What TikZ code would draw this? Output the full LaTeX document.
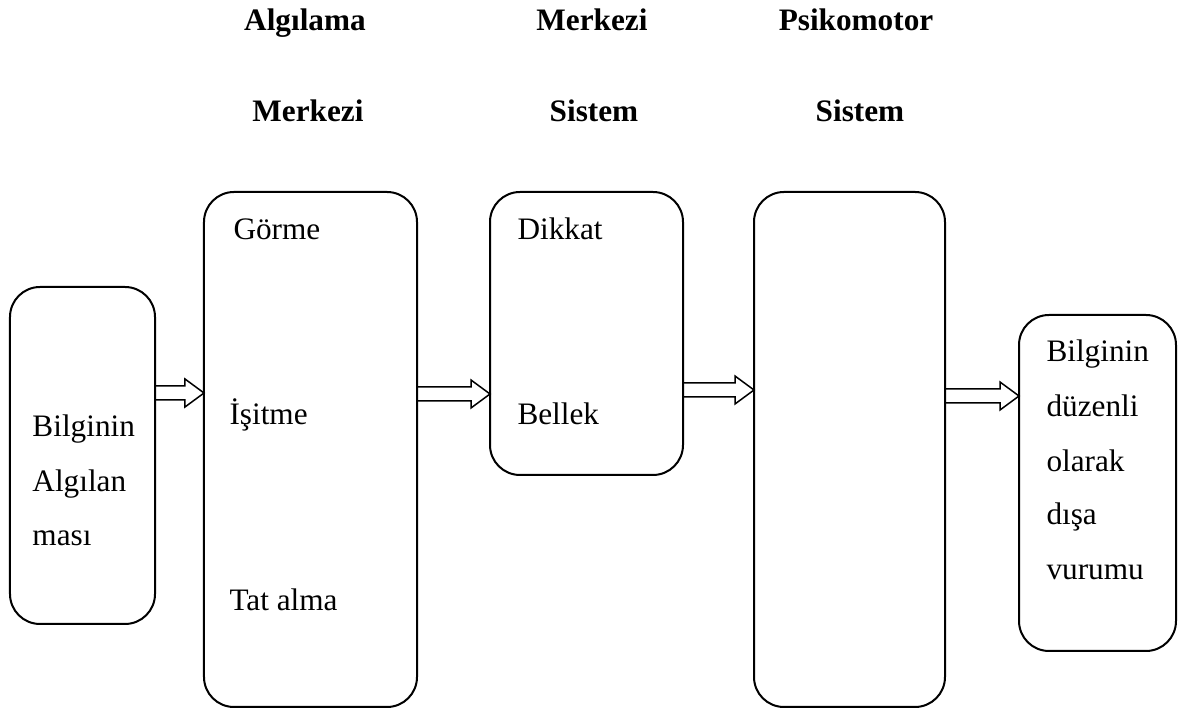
\documentclass[tikz,border=0pt]{standalone}
\usepackage{fontspec}
\setmainfont{Liberation Serif}
\usetikzlibrary{calc}
\begin{document}
\begin{tikzpicture}[x=0.4pt,y=-0.4pt,
  box/.style={draw,line width=0.8pt,rounded corners=12pt,inner sep=0pt,outer sep=0pt},
  txt/.style={anchor=base west,inner sep=0pt,font=\fontsize{12.5pt}{15pt}\selectfont},
  head/.style={anchor=base,inner sep=0pt,font=\fontsize{12.5pt}{15pt}\selectfont\bfseries},
  blk/.style={draw,line width=0.6pt,line join=miter}]
\useasboundingbox (0,0) rectangle (1188,724);
% boxes
\node[box,minimum width=58pt,minimum height=134.8pt] (b1) at (82.5,455.5) {};
\node[box,minimum width=85.2pt,minimum height=206pt] (b2) at (310.5,449.5) {};
\node[box,minimum width=77.2pt,minimum height=113.2pt] (b3) at (586.5,333.5) {};
\node[box,minimum width=76.4pt,minimum height=206pt] (b4) at (849.5,449.5) {};
\node[box,minimum width=62.8pt,minimum height=134.4pt] (b5) at (1097.5,483) {};
% headings
\node[head] (h1a) at (305,31) {Algılama};
\node[head] (h1b) at (308,122) {Merkezi};
\node[head] (h2a) at (592,31) {Merkezi};
\node[head] (h2b) at (594,122) {Sistem};
\node[head] (h3a) at (856,31) {Psikomotor};
\node[head] (h3b) at (860,122) {Sistem};
% texts
\node[txt] (t1) at (32,437) {Bilginin};
\node[txt] (t2) at (32,492) {Algılan};
\node[txt] (t3) at (32,546) {ması};
\node[txt] (t4) at (233,240) {Görme};
\node[txt] (t5) at (229,425) {İşitme};
\node[txt] (t6) at (229,611) {Tat alma};
\node[txt] (t7) at (517,240) {Dikkat};
\node[txt] (t8) at (517,425) {Bellek};
\node[txt] (t9) at (1046,362) {Bilginin};
\node[txt] (t10) at (1046,417) {düzenli};
\node[txt] (t11) at (1046,472) {olarak};
\node[txt] (t12) at (1046,525) {dışa};
\node[txt] (t13) at (1046,580) {vurumu};
% block arrows
\path (b1.east |- 0,393) coordinate (a1s) (b2.west |- 0,393) coordinate (a1e);
\path (b2.east |- 0,394) coordinate (a2s) (b3.west |- 0,394) coordinate (a2e);
\path (b3.east |- 0,390) coordinate (a3s) (b4.west |- 0,390) coordinate (a3e);
\path (b4.east |- 0,396) coordinate (a4s) (b5.west |- 0,396) coordinate (a4e);
\foreach \s/\e in {a1s/a1e,a2s/a2e,a3s/a3e,a4s/a4e}{
  \draw[blk] ($(\s)+(0,-7)$) -- ($(\e)+(-19,-7)$) -- ($(\e)+(-19,-14)$) -- (\e)
    -- ($(\e)+(-19,14)$) -- ($(\e)+(-19,7)$) -- ($(\s)+(0,7)$);
}
\end{tikzpicture}
\end{document}
